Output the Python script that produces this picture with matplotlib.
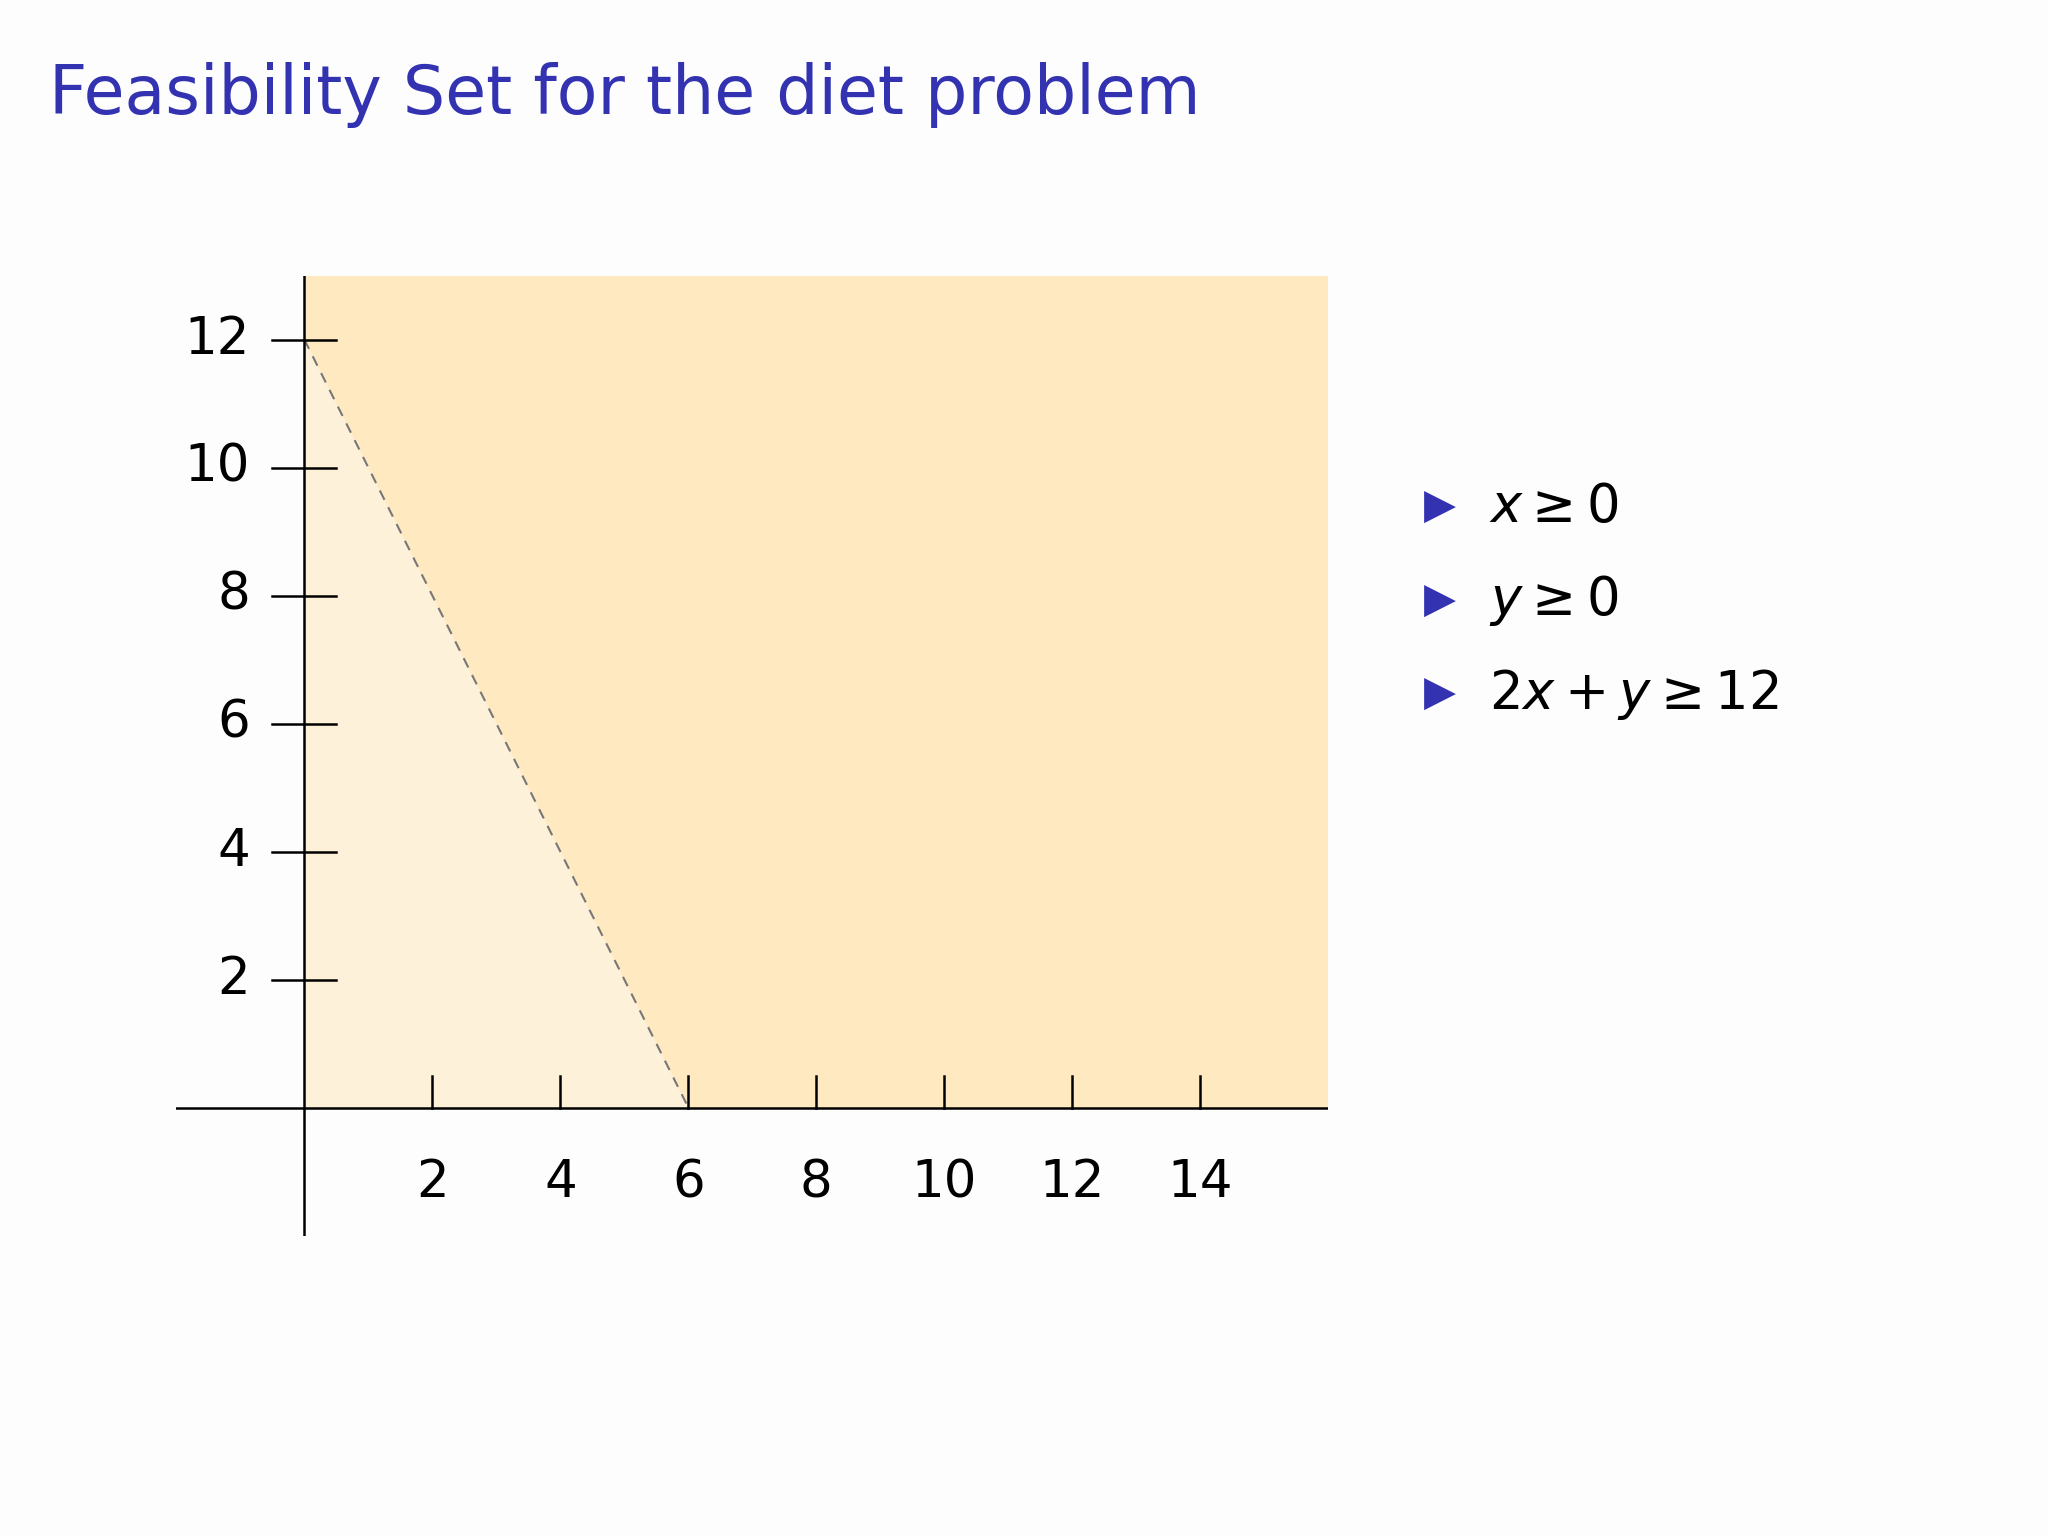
import matplotlib
matplotlib.use('Agg')
import matplotlib.pyplot as plt

plt.rcParams['font.family'] = ['DejaVu Sans']
plt.rcParams['mathtext.fontset'] = 'dejavusans'

# data
x_ticks = [2, 4, 6, 8, 10, 12, 14]
y_ticks = [2, 4, 6, 8, 10, 12]
line_x = [0, 6]
line_y = [12, 0]
x_lim = (-2, 16)
y_lim = (-2, 13)
constraints = [r'$x \geq 0$', r'$y \geq 0$', r'$2x + y \geq 12$']

fig = plt.figure(figsize=(20.48, 15.36), dpi=100)
fig.patch.set_facecolor('#fdfdfd')
fig.text(0.024, 0.938, 'Feasibility Set for the diet problem', color='#3333b2',
         fontsize=48, va='center', ha='left')

ax = fig.add_axes([0.0861, 0.1956, 0.5625, 0.625])
ax.set_xlim(*x_lim)
ax.set_ylim(*y_lim)
ax.axis('off')

# feasible region (dark) and excluded triangle (light)
ax.fill([0, 16, 16, 0], [0, 0, 13, 13], color='#fee9c0', lw=0, zorder=1)
ax.fill([0, line_x[1], 0], [0, 0, line_y[0]], color='#fef1da', lw=0, zorder=2)
ax.plot(line_x, line_y, ls=(0, (5, 4)), color='#777777', lw=1.5, zorder=3)

# axes
ax.plot([x_lim[0], x_lim[1]], [0, 0], color='black', lw=1.8, zorder=4)
ax.plot([0, 0], [y_lim[0], y_lim[1]], color='black', lw=1.8, zorder=4)
for t in x_ticks:
    ax.plot([t, t], [0, 0.5], color='black', lw=1.8, zorder=4)
    ax.text(t, -1.18, str(t), ha='center', va='center', fontsize=37)
for t in y_ticks:
    ax.plot([-0.5, 0.5], [t, t], color='black', lw=1.8, zorder=4)
    ax.text(-0.85, t, str(t), ha='right', va='center', fontsize=37)

# constraint list
for i, c in enumerate(constraints):
    yy = 0.67 - i * 0.061
    fig.text(0.703, yy, u'\u25B6', color='#3333b2', fontsize=30, ha='center', va='center')
    fig.text(0.727, yy, c, fontsize=38, ha='left', va='center')

fig.savefig('out.png', dpi=100, facecolor=fig.get_facecolor())
